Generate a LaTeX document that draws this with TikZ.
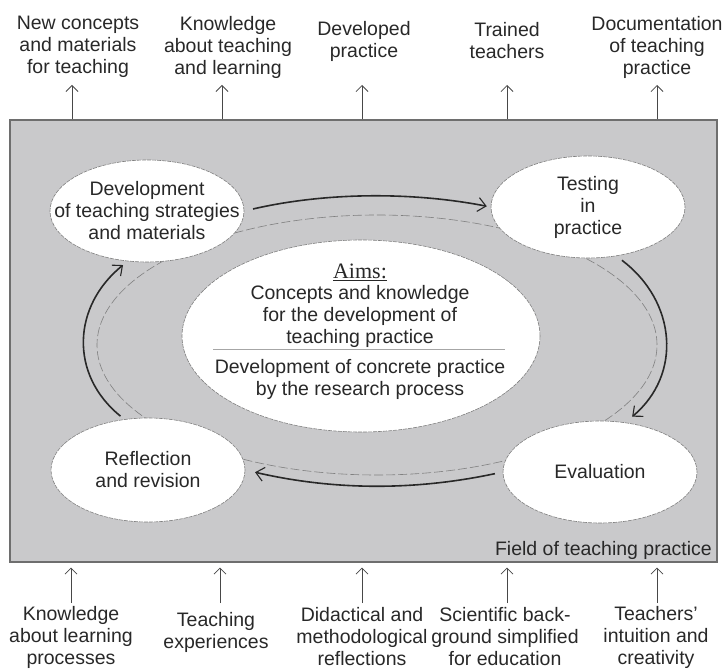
\documentclass[tikz,border=0pt]{standalone}
\usepackage{fontspec}
\setmainfont{Liberation Sans}
\newfontfamily\aimsfont{Liberation Serif}
\usetikzlibrary{shapes.geometric,arrows.meta}
\definecolor{ink}{RGB}{40,40,40}
\definecolor{paper}{RGB}{201,201,203}
\definecolor{rim}{RGB}{110,110,110}
\newcommand\lbl{\fontsize{19.5}{22}\selectfont}

\begin{document}
\begin{tikzpicture}[x=1pt,y=1pt,>={Straight Barb[length=6pt,width=12pt]},
  lab/.style={align=center,font=\lbl,text=ink,inner sep=0pt},
  stage/.style={ellipse,draw=gray,dash pattern=on 4pt off 1pt,line width=.6pt,fill=white,
    minimum width=194pt,minimum height=102pt,inner sep=0pt},
  cyc/.style={->,>={Straight Barb[length=8pt,width=14pt,line width=1.1pt]},draw=ink,line width=1.6pt},
  feed/.style={->,draw=ink!85,line width=.8pt}]
\useasboundingbox (0,0) rectangle (725,670);
\node[draw=rim,fill=paper,line width=1.2pt,minimum width=707pt,minimum height=442pt,inner sep=0pt] (field) at (363.5,329) {};
\node[lab,anchor=base east] (fieldname) at (712,115) {Field of teaching practice};

% the track round the aims
\draw[gray,line width=.6pt,dash pattern=on 9pt off 3pt] (377,325) ellipse [x radius=280,y radius=130];
\node[stage,minimum width=358pt,minimum height=192pt] (aims) at (361,334) {};
\node[lab] (aimstext) at (360,338) {{\aimsfont\fontsize{22}{22}\selectfont\underline{Aims:}}\\[-1pt]Concepts and knowledge\\for the development of\\teaching practice\\[8pt]Development of concrete practice\\by the research process};
\draw[gray!70,line width=.8pt] (213,321)--(505,321);

\node[stage,label={[lab]center:{Development\\of teaching strategies\\and materials}}] (dev) at (147,459) {};
\node[stage,label={[lab]center:{Testing\\in\\practice}}] (test) at (588,463) {};
\node[stage,label={[lab]center:Evaluation}] (eval) at (600,198) {};
\node[stage,minimum height=104pt,label={[lab]center:{Reflection\\and revision}}] (refl) at (148,200) {};

\draw[cyc,shorten <=9pt,shorten >=4pt] (dev.east) to[out=13,in=169,looseness=.85] (test.west);
\draw[cyc,shorten <=7pt,shorten >=9pt] (test.-60) to[out=-37,in=40,looseness=1.15] (eval.63);
\draw[cyc,shorten <=8pt,shorten >=10pt] (eval.west) to[out=192,in=-13,looseness=.9] (refl.east);
\draw[cyc,shorten <=5pt,shorten >=6pt] (refl.115) to[out=141,in=219,looseness=1.15] (dev.-111);

% results
\node[lab] (newcon) at (78,623) {New concepts\\and materials\\for teaching};
\node[lab] (knowteach) at (228,623) {Knowledge\\about teaching\\and learning};
\node[lab] (devprac) at (364,629) {Developed\\practice};
\node[lab] (trained) at (507,629) {Trained\\teachers};
\node[lab] (docu) at (657,623) {Documentation\\of teaching\\practice};
\coordinate (up1) at (72,585);
\coordinate (up2) at (222,585);
\coordinate (up3) at (362,585);
\coordinate (up4) at (507,585);
\coordinate (up5) at (657,585);
\draw[feed] (field.north -| up1)--(up1);
\draw[feed] (field.north -| up2)--(up2);
\draw[feed] (field.north -| up3)--(up3);
\draw[feed] (field.north -| up4)--(up4);
\draw[feed] (field.north -| up5)--(up5);

% sources
\node[lab] (knowlearn) at (71,33) {Knowledge\\about learning\\processes};
\node[lab] (teachexp) at (216,38) {Teaching\\experiences};
\node[lab] (didac) at (362,33) {Didactical and\\methodological\\reflections};
\node[lab] (science) at (505,33) {Scientific back-\\ground simplified\\for education};
\node[lab] (intuit) at (656,33) {Teachers'\\intuition and\\creativity};
\coordinate (dn1) at (71,67);
\coordinate (dn2) at (220,67);
\coordinate (dn3) at (362,67);
\coordinate (dn4) at (507,67);
\coordinate (dn5) at (657,67);
\draw[feed,shorten >=5pt] (dn1)--(dn1 |- field.south);
\draw[feed,shorten >=5pt] (dn2)--(dn2 |- field.south);
\draw[feed,shorten >=5pt] (dn3)--(dn3 |- field.south);
\draw[feed,shorten >=5pt] (dn4)--(dn4 |- field.south);
\draw[feed,shorten >=5pt] (dn5)--(dn5 |- field.south);

\end{tikzpicture}
\end{document}
